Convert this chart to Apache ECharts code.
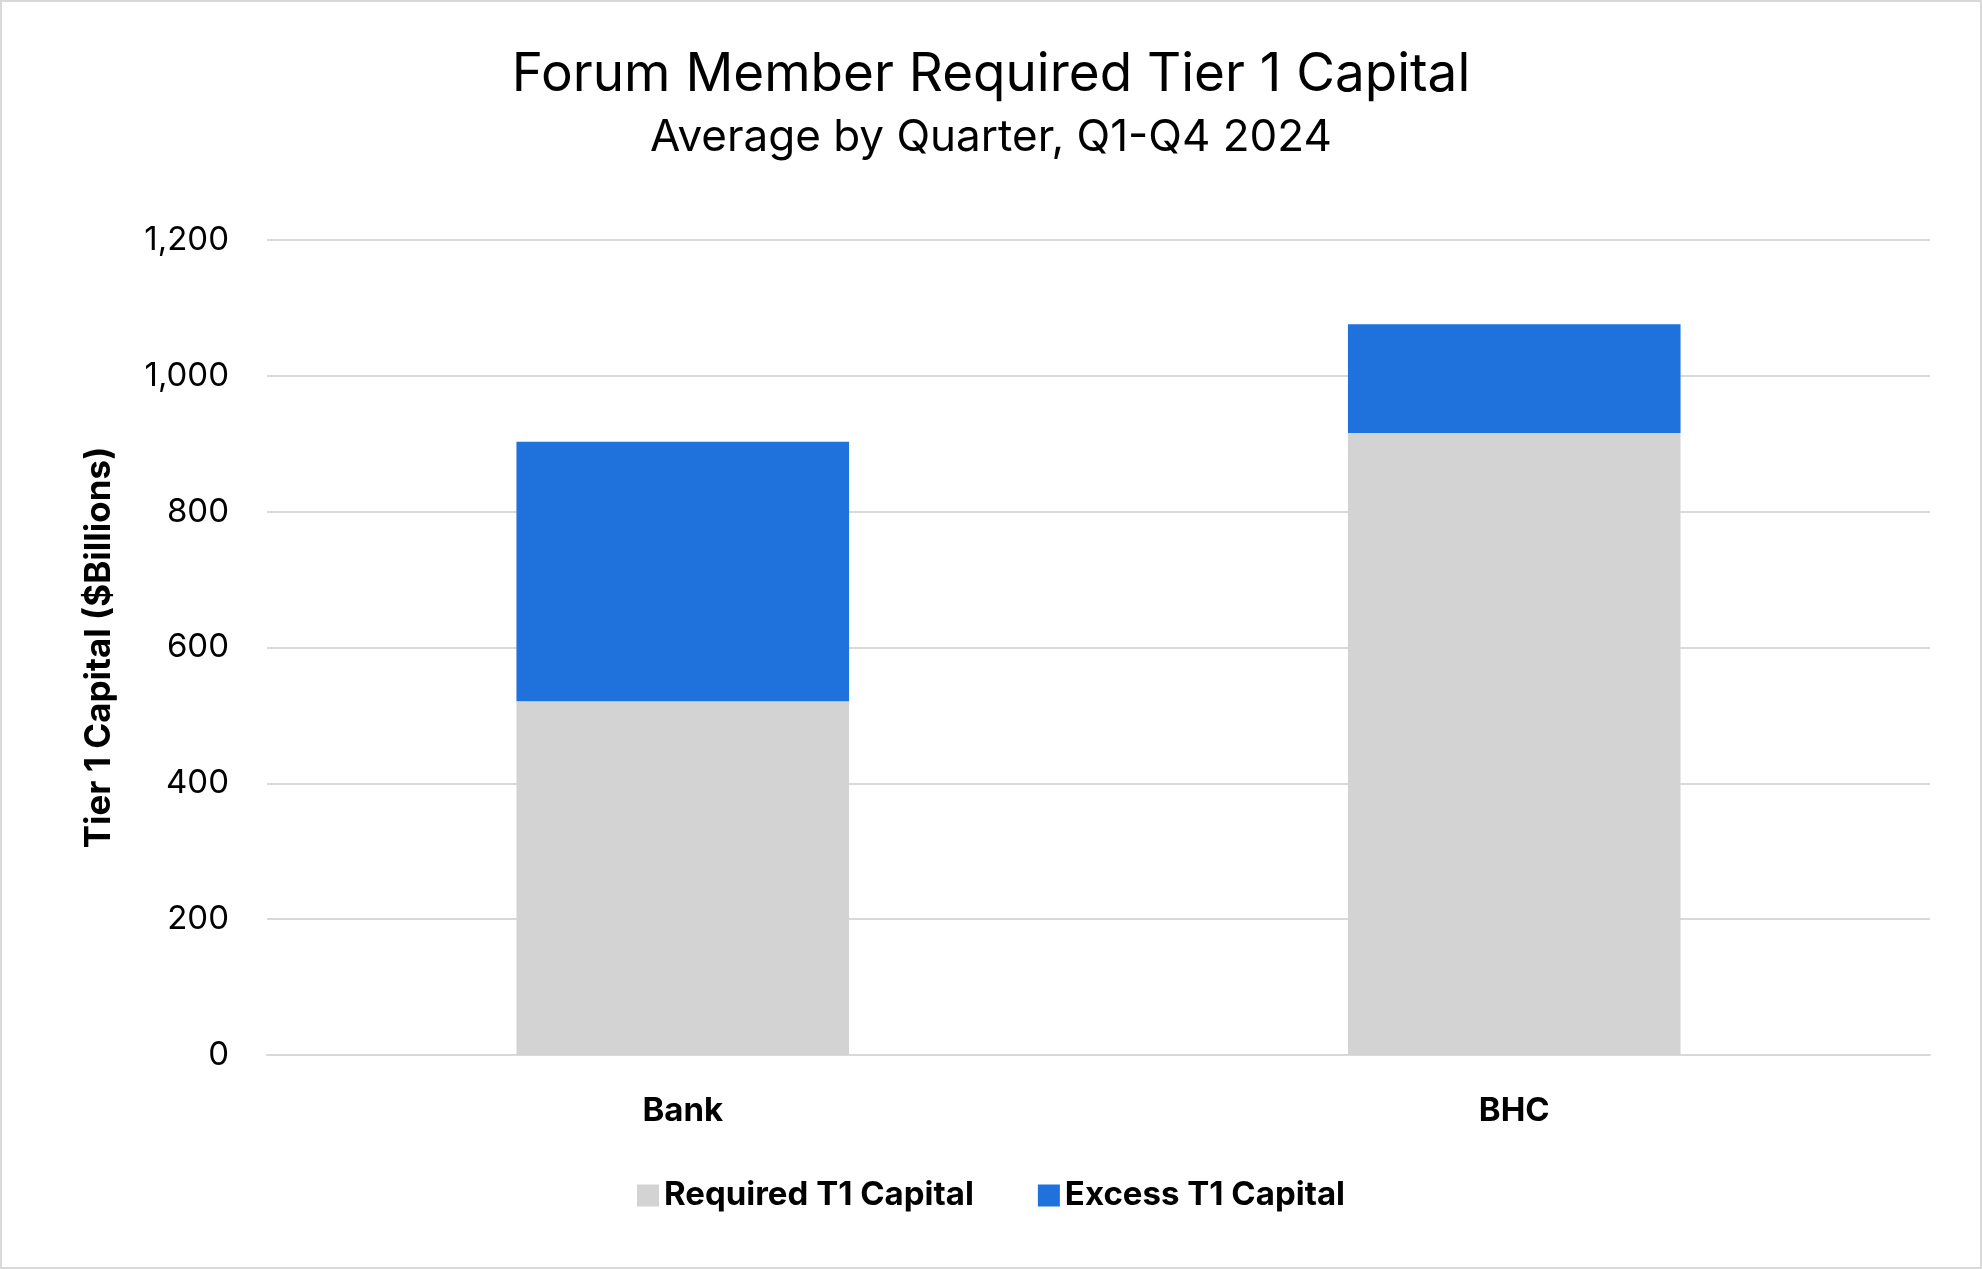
<!DOCTYPE html>
<html><head><meta charset="utf-8">
<script src="https://cdn.jsdelivr.net/npm/echarts@6/dist/echarts.min.js"></script>
<style>html,body{margin:0;padding:0;background:#fff}#c{width:1982px;height:1269px;box-sizing:border-box;border:2px solid #d9d9d9}</style>
</head><body><div id="c"></div>
<script>
const categories = ['Bank', 'BHC'];
const requiredT1 = [521, 916];
const excessT1 = [382, 160];
const yTicks = [0, 200, 400, 600, 800, 1000, 1200];

const chart = echarts.init(document.getElementById('c'));
const F = 'Inter, "Open Sans", "Noto Sans", sans-serif';
chart.setOption({
  animation: false,
  title: {
    text: 'Forum Member Required Tier 1 Capital',
    subtext: 'Average by Quarter, Q1-Q4 2024',
    left: 'center', top: 42, itemGap: 14,
    textStyle: {fontFamily: F, fontSize: 53, fontWeight: 'normal', color: '#000'},
    subtextStyle: {fontFamily: F, fontSize: 44, color: '#000'}
  },
  legend: {
    bottom: 50, left: 'center', itemWidth: 22, itemHeight: 22, itemGap: 64,
    icon: 'rect',
    textStyle: {fontFamily: F, fontSize: 33, fontWeight: 'bold', color: '#000'}
  },
  grid: {left: 265, right: 50, top: 238, bottom: 212},
  xAxis: {
    type: 'category', data: categories,
    axisLine: {lineStyle: {color: '#d9d9d9', width: 2}},
    axisTick: {show: false},
    axisLabel: {fontFamily: F, fontSize: 33, fontWeight: 'bold', color: '#000', margin: 40}
  },
  yAxis: {
    type: 'value', min: 0, max: 1200, interval: 200,
    name: 'Tier 1 Capital ($Billions)', nameLocation: 'middle', nameGap: 150,
    nameTextStyle: {fontFamily: F, fontSize: 35, fontWeight: 'bold', color: '#000'},
    axisLabel: {fontFamily: F, fontSize: 33, color: '#000', margin: 38,
      formatter: v => yTicks.includes(v) ? v.toLocaleString('en-US') : ''},
    splitLine: {lineStyle: {color: '#d9d9d9', width: 2}}
  },
  series: [
    {name: 'Required T1 Capital', type: 'bar', stack: 't', data: requiredT1, barWidth: '40%', itemStyle: {color: '#d3d3d3'}},
    {name: 'Excess T1 Capital', type: 'bar', stack: 't', data: excessT1, barWidth: '40%', itemStyle: {color: '#1f71dc'}}
  ]
});
</script></body></html>
